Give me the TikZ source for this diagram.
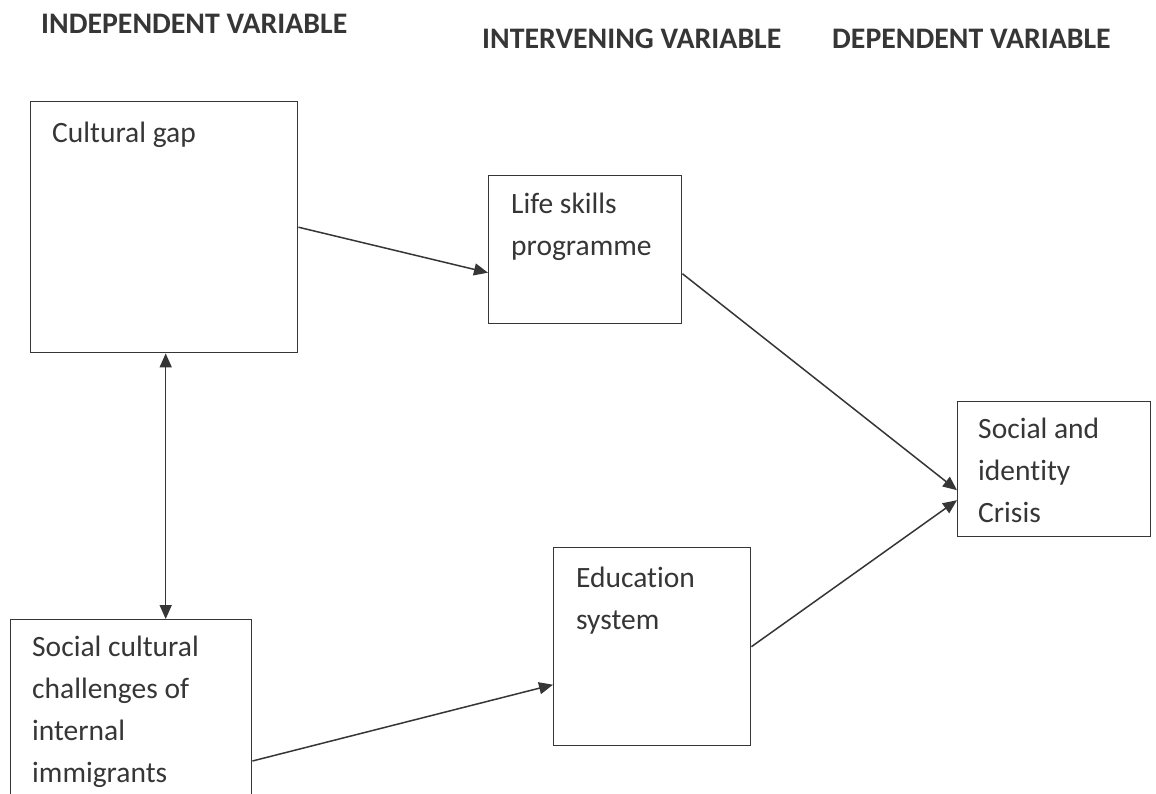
\documentclass[tikz,border=0pt]{standalone}
\usepackage{fontspec}
\setmainfont{Carlito}[Ligatures=NoCommon]
\usetikzlibrary{arrows.meta,calc}
\definecolor{ink}{HTML}{363636}
\begin{document}
\begin{tikzpicture}[x=1pt,y=-1pt,
  box/.style={draw=ink,line width=1.4pt,rectangle,inner sep=0pt,anchor=north west},
  txt/.style={anchor=base west,inner sep=0pt,text=ink,font=\fontsize{29.5}{42}\selectfont,align=left},
  head/.style={anchor=base west,inner sep=0pt,text=ink,font=\fontsize{29.8}{34}\selectfont\bfseries},
  conn/.style={draw=ink,line width=1.5pt,-{Triangle[length=14pt,width=12pt]}},
  dconn/.style={draw=ink,line width=1.5pt,{Triangle[length=14pt,width=12pt]}-{Triangle[length=14pt,width=12pt]}}]
\useasboundingbox[fill=white] (0,0) rectangle (1156,793);

\node[head] (h1) at (41,33) {INDEPENDENT VARIABLE};
\node[head] (h2) at (482,48) {INTERVENING VARIABLE};
\node[head] (h3) at (832,48) {DEPENDENT VARIABLE};

\node[box,minimum width=267pt,minimum height=251pt] (cg) at (30,101) {};
\node[box,minimum width=241pt,minimum height=200pt] (sc) at (10,619) {};
\node[box,minimum width=193pt,minimum height=148pt] (ls) at (488,175) {};
\node[box,minimum width=197pt,minimum height=198pt] (ed) at (553,547) {};
\node[box,minimum width=193pt,minimum height=135pt] (si) at (957,401) {};

% multi-line nodes: base anchor sits on the last line
\node[txt] (cgt) at (52,142) {Cultural gap};
\node[txt] (sct) at (32,782) {Social cultural\\challenges of\\internal\\immigrants};
\node[txt] (lst) at (511,255) {Life skills\\programme};
\node[txt] (edt) at (576,629) {Education\\system};
\node[txt] (sit) at (978,522) {Social and\\identity\\Crisis};

\coordinate (scout) at ($(sc.north east)+(0,142)$);
\coordinate (dtop) at ($(cg.south)+(1.5,0)$);
\coordinate (dbot) at (dtop |- sc.north);
\draw[conn] (cg.east) -- ($(ls.west)+(0,23)$);
\draw[conn] ($(ls.east)+(0,24)$) -- ($(si.west)+(0,21)$);
\draw[conn] (scout) -- ($(ed.west)+(0,38)$);
\draw[conn] (ed.east) -- ($(si.west)+(0,31)$);
\draw[dconn] (dtop) -- (dbot);
\end{tikzpicture}
\end{document}
